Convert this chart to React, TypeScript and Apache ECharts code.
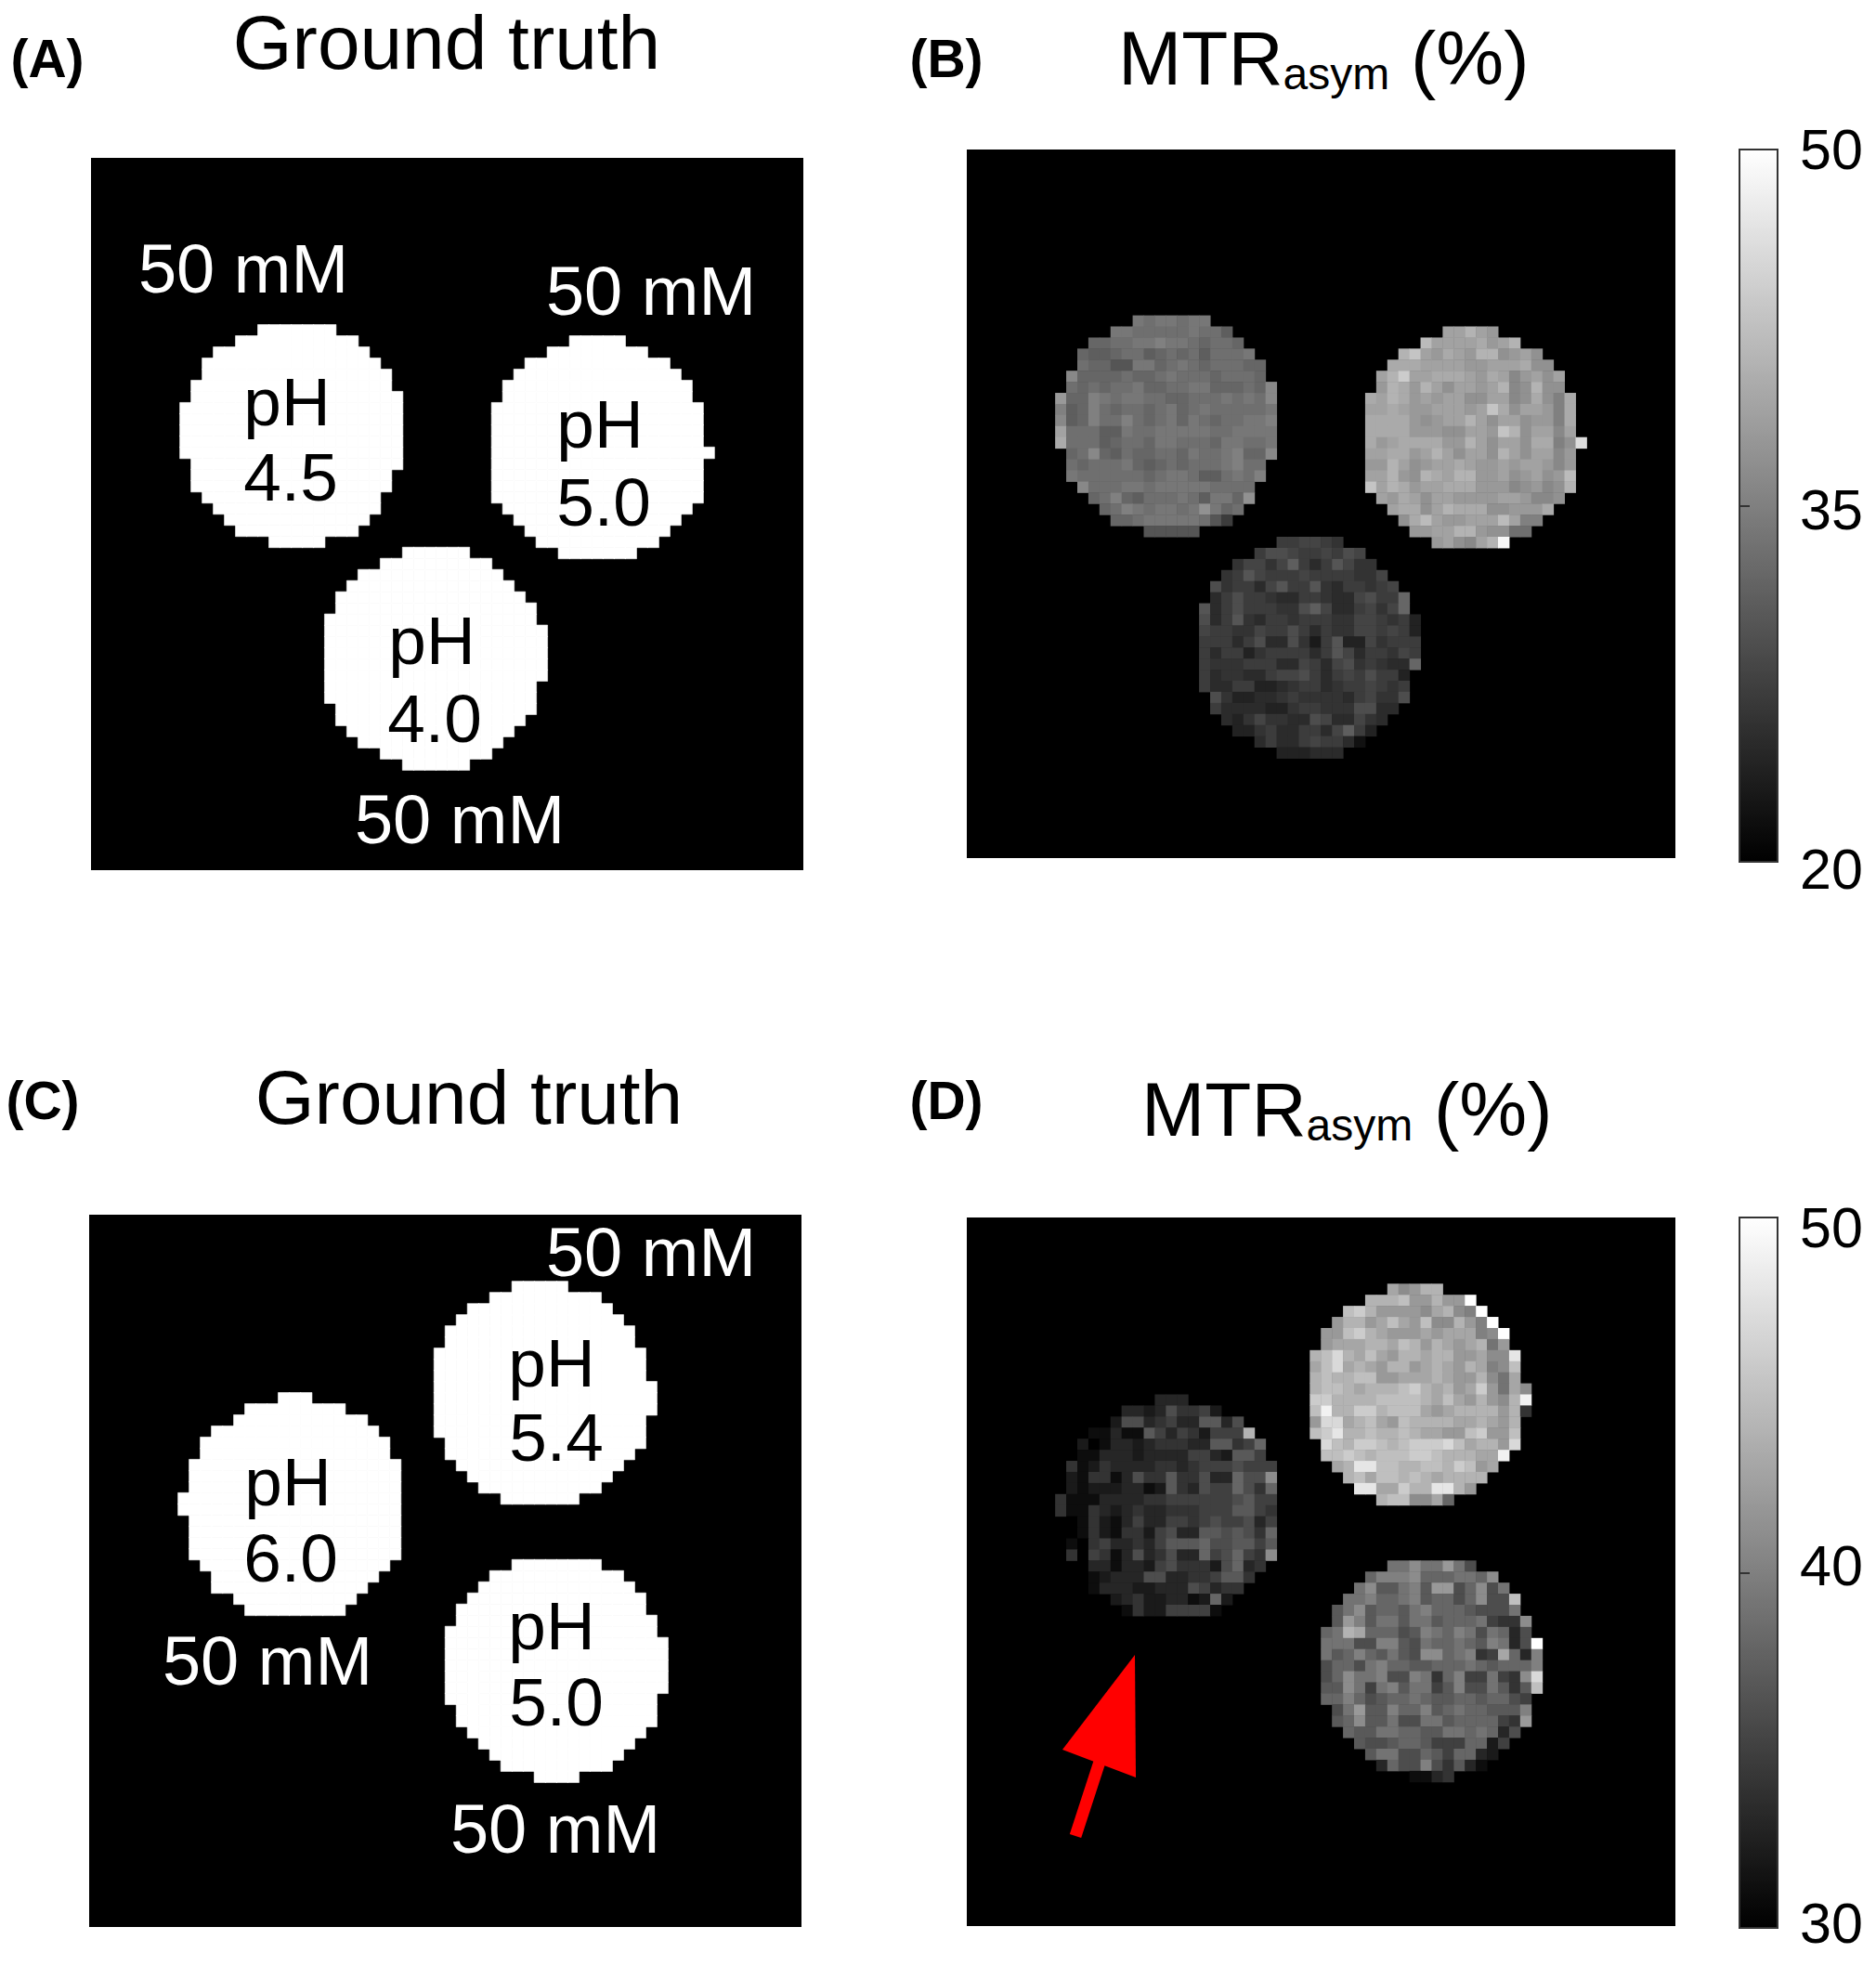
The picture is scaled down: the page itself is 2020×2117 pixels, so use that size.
import React, { useEffect, useRef } from "react";
import * as echarts from "echarts";

const cellIndex: string[] = [];
for (let i = 0; i < 64; i++) cellIndex.push(String(i));

// Panel B discs: MTRasym (%) read per cell, row by row
const b1Origin = [8, 15];
const b1Offsets = [7, 5, 3, 2, 2, 1, 1, 0, 0, 0, 0, 0, 1, 1, 1, 2, 3, 4, 5, 8];
const b1Rows = [
  [34,33,34,34,33,34,34],
  [34,34,33,33,33,33,33,34,33,33,31],
  [32,32,33,33,34,34,35,34,34,33,32,33,33,32],
  [32,31,31,32,33,33,31,32,33,32,33,31,33,33,33,34],
  [33,32,32,30,30,34,34,32,33,34,33,32,33,33,33,32,32],
  [36,32,32,32,32,33,32,32,33,34,33,33,33,32,33,33,33,32],
  [33,32,33,32,33,33,34,32,32,33,33,34,34,32,32,32,33,32,36],
  [38,32,32,35,34,33,34,34,33,33,32,32,33,33,33,34,33,34,33,36],
  [35,31,32,35,33,32,33,33,32,33,34,32,33,34,33,33,33,33,33,34],
  [36,31,32,35,33,33,35,33,32,33,34,32,34,33,32,33,33,34,34,35],
  [39,33,33,33,31,31,34,33,33,34,34,34,34,34,33,33,34,34,34,34],
  [40,33,33,33,31,32,33,33,32,34,34,33,33,33,32,34,34,33,33,34],
  [32,33,36,32,31,33,32,32,33,33,32,34,33,33,34,35,32,32,36],
  [33,32,33,33,33,34,32,31,32,33,32,33,33,33,34,35,33,33],
  [34,33,33,33,33,33,33,32,33,34,34,33,31,31,33,34,33,35],
  [36,33,33,33,34,34,33,34,34,34,34,34,33,33,33,33],
  [32,33,35,32,31,33,33,33,34,33,31,34,34,32,37],
  [32,33,35,34,33,34,34,33,34,37,34,32,33],
  [32,32,33,34,34,34,34,34,33,30,27],
  [30,30,30,30,30],
];

const b2Origin = [36, 16];
const b2Offsets = [7, 5, 3, 2, 1, 1, 0, 0, 0, 0, 0, 0, 0, 0, 0, 1, 2, 3, 4, 6];
const b2Rows = [
  [39,39,41,39,38],
  [42,39,39,39,39,40,38,39,41],
  [41,43,39,38,40,39,38,41,41,37,38,39,37],
  [40,40,40,39,39,39,39,38,38,39,39,39,40,37,37],
  [39,41,44,39,39,40,40,40,39,38,40,39,36,38,39,37,39],
  [38,41,40,38,41,39,37,39,39,38,39,41,36,37,41,37,37],
  [40,39,41,40,38,39,38,39,39,37,37,39,39,36,37,40,37,35,40],
  [39,39,40,39,38,38,39,39,39,38,39,43,40,37,39,39,38,35,40],
  [40,40,40,40,38,37,38,39,39,41,39,37,39,39,37,38,38,35,40],
  [40,40,40,40,38,38,38,37,37,39,39,38,43,41,37,39,39,36,39],
  [40,38,39,40,40,40,40,38,38,41,39,37,39,39,37,40,40,35,37,46],
  [39,39,40,40,38,39,41,39,37,39,39,37,41,39,37,39,39,36,38],
  [38,38,41,39,37,38,39,39,40,39,38,38,39,38,39,39,38,36,38],
  [39,39,41,38,37,41,40,39,41,41,38,38,39,37,38,39,37,38,42],
  [43,39,41,40,38,39,39,40,40,40,38,38,38,36,37,38,36,37,41],
  [39,38,40,39,37,39,39,38,38,38,38,39,39,38,36,36,37],
  [39,40,40,37,39,41,40,40,40,37,37,38,38,38,40],
  [37,40,42,39,38,38,39,39,39,42,39,35,35],
  [38,38,39,39,41,41,38,37,37,33,33],
  [38,39,37,36,39,41,49],
];

const b3Origin = [21, 35];
const b3Offsets = [7, 5, 3, 2, 1, 1, 0, 0, 0, 0, 0, 0, 0, 0, 1, 1, 2, 3, 5, 7];
const b3Rows = [
  [27,27,28,28,27,26],
  [27,29,29,28,27,27,28,27,29,28],
  [26,28,28,26,28,31,27,25,27,30,28,26,26],
  [26,27,30,28,27,27,27,28,27,27,27,27,26,26,28],
  [29,26,27,27,25,28,30,27,27,30,26,25,27,27,26,27,28],
  [25,27,29,27,27,26,25,25,27,27,26,25,25,28,29,27,27,32],
  [30,25,27,29,27,27,27,26,26,29,31,28,25,25,27,28,26,28,32],
  [29,25,27,30,26,25,27,27,26,27,27,27,26,26,28,28,27,26,27,24],
  [28,27,27,26,26,28,27,27,29,27,25,27,26,26,28,28,27,28,27,24],
  [27,27,27,25,27,29,25,25,29,26,23,27,30,24,24,28,26,27,27,27],
  [27,25,27,27,24,26,27,27,27,27,25,27,30,28,25,27,27,26,28,27],
  [27,26,26,26,27,27,27,25,25,28,27,25,28,29,26,27,26,25,25,32],
  [27,25,26,26,25,25,27,28,28,29,27,25,27,28,27,29,27,27,24],
  [27,25,25,27,27,24,24,25,26,27,27,25,26,27,27,28,27,26,27],
  [29,26,24,24,25,25,26,27,26,26,26,26,25,27,28,26,26,29],
  [27,25,25,25,25,24,24,26,27,27,26,26,26,29,29,25,25],
  [25,24,26,28,26,26,25,25,29,28,25,25,28,26,25],
  [24,24,26,27,25,25,27,27,25,28,31,27,24],
  [25,27,25,25,27,28,27,27,25,22],
  [24,24,24,25,25,25],
];

// Panel D discs
const d1Origin = [8, 16];
const d1Offsets = [9, 6, 5, 3, 2, 2, 1, 1, 1, 0, 0, 1, 1, 1, 1, 2, 3, 3, 5, 6];
const d1Rows = [
  [33,33,33],
  [33,33,32,33,36,34,34,35,32],
  [32,36,36,33,34,35,33,33,37,37,33,36],
  [31,31,33,31,31,37,35,33,35,34,32,35,35,35,44],
  [32,30,31,33,33,32,33,34,34,34,33,33,37,37,34,35,38],
  [31,31,33,33,33,32,33,33,33,33,35,35,33,32,37,37,35],
  [34,31,32,34,33,33,33,33,34,34,33,34,35,35,35,36,35,35,35],
  [32,31,34,34,31,33,36,34,34,37,34,34,36,33,33,38,36,36,41],
  [32,31,32,32,32,33,33,31,32,37,34,33,36,35,35,38,36,34,38],
  [34,31,31,31,33,33,33,33,34,34,35,35,35,35,35,35,36,37,35,35],
  [34,31,31,34,33,32,33,34,33,33,34,34,34,35,35,35,37,37,35,34],
  [30,31,34,32,31,33,35,33,33,35,35,34,35,36,35,35,36,33,35],
  [30,31,34,32,31,34,34,32,35,36,33,33,37,37,36,37,36,34,38],
  [31,30,34,35,33,33,34,33,35,37,37,37,38,36,36,37,37,35,37],
  [34,30,35,34,31,33,36,33,34,36,33,33,38,35,36,38,35,34,41],
  [30,33,33,31,33,33,32,35,36,34,34,34,32,36,38,33,34],
  [31,32,33,33,33,36,36,33,33,34,34,35,37,37,34],
  [31,33,33,33,32,32,33,33,33,36,35,33,34,34],
  [32,33,34,32,32,33,33,31,32,38,32],
  [31,34,32,32,35,35,35,35,31],
];

const d2Origin = [31, 6];
const d2Offsets = [7, 5, 3, 2, 1, 1, 0, 0, 0, 0, 0, 0, 0, 0, 1, 1, 2, 3, 4, 6];
const d2Rows = [
  [43,41,42,44,44],
  [44,44,44,45,42,42,44,42,42,50],
  [45,46,44,42,42,42,42,41,43,44,41,40,50],
  [42,44,44,42,43,45,43,42,45,41,41,44,42,40,50],
  [42,42,45,46,44,43,42,42,42,43,42,43,43,43,40,41,50],
  [42,43,43,43,44,44,43,45,44,42,44,43,42,43,44,39,42],
  [44,45,47,44,43,45,43,42,44,44,43,44,44,42,42,43,41,41,48],
  [43,45,47,43,44,43,42,44,44,42,43,44,43,42,44,43,40,41,45],
  [44,45,44,44,45,45,42,42,43,43,43,44,43,42,42,44,41,39,43],
  [44,45,45,44,43,44,44,44,45,46,44,43,44,42,43,46,42,39,43,41],
  [46,46,44,44,44,44,45,45,45,45,44,43,45,43,42,44,42,41,44,49],
  [45,49,44,44,46,46,44,45,45,45,43,42,43,44,44,44,44,42,44,34],
  [42,47,47,43,44,45,43,42,45,44,44,44,44,43,43,44,43,42,44],
  [45,46,48,44,44,45,44,44,45,44,43,43,42,42,45,46,42,42,45],
  [47,45,44,46,46,45,44,45,46,46,46,47,45,43,44,44,42,47],
  [45,45,46,45,44,45,45,45,46,46,45,44,44,44,43,43,49],
  [43,44,48,48,45,45,44,44,45,45,44,46,45,42,43],
  [44,45,43,45,45,44,45,44,43,44,44,44,44],
  [48,48,43,43,46,44,44,48,48,44,42],
  [44,45,45,41,41,43,38],
];

const d3Origin = [32, 31];
const d3Offsets = [6, 4, 3, 2, 1, 1, 0, 0, 0, 0, 0, 0, 0, 1, 1, 2, 3, 4, 5, 8];
const d3Rows = [
  [39,39,41,39,39,42,39,36],
  [38,40,40,40,41,38,38,38,39,39,38,41],
  [39,41,37,37,39,40,37,42,42,36,38,41,36,39],
  [39,39,40,38,38,39,40,37,38,38,36,38,41,36,36,45],
  [37,39,41,37,38,38,37,39,40,38,38,38,37,36,36,36,39],
  [37,42,40,37,39,39,37,39,39,37,38,38,38,39,35,34,34,41],
  [38,39,44,43,38,38,38,36,37,40,39,38,40,39,36,39,38,33,36],
  [39,39,39,36,36,40,40,37,36,39,38,38,39,38,37,40,39,33,36,50],
  [39,37,38,40,38,37,39,37,36,41,41,38,39,40,34,35,43,38,33,40],
  [36,38,38,36,39,40,38,38,37,37,38,38,38,39,38,37,38,38,38,40],
  [36,38,41,39,39,40,36,36,40,39,34,38,40,35,35,39,35,34,41,47],
  [37,37,41,39,35,39,40,37,39,39,35,37,40,36,36,39,37,34,37,45],
  [38,38,40,38,36,37,38,38,39,38,37,37,38,38,37,38,38,36,35],
  [36,39,42,37,37,40,38,38,40,37,38,39,38,38,37,37,37,40],
  [37,38,41,37,37,39,36,36,39,39,37,38,38,38,38,35,34,42],
  [38,37,37,39,39,38,38,37,37,39,39,38,39,38,33,36],
  [37,36,36,37,38,38,37,35,35,35,38,38,32,35],
  [37,39,39,36,36,38,37,35,38,38,33,32],
  [33,38,36,36,40,36,34,37,33,31],
  [31,31,33,34],
];

const scaleBTicks = [20, 35, 50];
const scaleDTicks = [30, 40, 50];
const FONT = "'Liberation Sans', Arial, sans-serif";

type Disc = [number[], number[], number[][]];
const discsB: Disc[] = [[b1Origin, b1Offsets, b1Rows], [b2Origin, b2Offsets, b2Rows], [b3Origin, b3Offsets, b3Rows]];
const discsD: Disc[] = [[d1Origin, d1Offsets, d1Rows], [d2Origin, d2Offsets, d2Rows], [d3Origin, d3Offsets, d3Rows]];

const cells = (discs: Disc[], mask: boolean) => {
  const out: number[][] = [];
  discs.forEach(([origin, offsets, rows]) =>
    rows.forEach((row, r) =>
      row.forEach((v, c) => out.push([origin[0] + offsets[r] + c, origin[1] + r, mask ? 1 : v]))
    )
  );
  return out;
};

const PANELS = [
  { left: 98, top: 170, size: 767 },
  { left: 1041, top: 161, size: 763 },
  { left: 96, top: 1308, size: 767 },
  { left: 1041, top: 1311, size: 763 },
];
const BARS = [
  { left: 1873, top: 161, width: 41, height: 767, min: 20, max: 50, ticks: scaleBTicks, seriesIndex: 1, nudge: { 20: 8, 35: 4, 50: 0 } as Record<number, number> },
  { left: 1873, top: 1311, width: 41, height: 765, min: 30, max: 50, ticks: scaleDTicks, seriesIndex: 3, nudge: { 30: -5, 40: -8, 50: 11 } as Record<number, number> },
];

const txt = (text: string, x: number, y: number, fontSize: number, fill: string, bold = false, align = "center") => ({
  type: "text",
  x,
  y,
  z: 20,
  style: {
    text,
    fill,
    fontSize,
    fontFamily: FONT,
    fontWeight: bold ? "bold" : "normal",
    textAlign: align,
    textVerticalAlign: "middle",
  },
});

const mtrTitle = (x: number, y: number) => ({
  type: "text",
  x,
  y,
  z: 20,
  style: {
    text: "{m|MTR}{s|asym}{m| (%)}",
    textAlign: "left",
    textVerticalAlign: "middle",
    rich: {
      m: { fontSize: 82, fontFamily: FONT, fill: "#000", lineHeight: 82 },
      s: { fontSize: 48, fontFamily: FONT, fill: "#000", lineHeight: 38, verticalAlign: "bottom" },
    },
  },
});

export default function App() {
  const ref = useRef<HTMLDivElement>(null);
  useEffect(() => {
    document.body.style.margin = "0";
    const chart = echarts.init(ref.current!, undefined, { renderer: "svg" });
    const sources = [cells(discsB, true), cells(discsB, false), cells(discsD, true), cells(discsD, false)];
    const gridIds = [0, 1, 2, 3];
    const option: any = {
      animation: false,
      backgroundColor: "#fff",
      grid: [
        ...PANELS.map((p) => ({
          left: p.left, top: p.top, width: p.size, height: p.size,
          show: true, backgroundColor: "#000", borderWidth: 0,
        })),
        ...BARS.map((b) => ({
          left: b.left, top: b.top, width: b.width, height: b.height,
          show: true, backgroundColor: "transparent", borderColor: "#333", borderWidth: 2, z: 10,
        })),
      ],
      xAxis: [
        ...gridIds.map((g) => ({ type: "category", gridIndex: g, data: cellIndex, show: false })),
        ...BARS.map((_, i) => ({ type: "value", gridIndex: 4 + i, show: false, min: 0, max: 1 })),
      ],
      yAxis: [
        ...gridIds.map((g) => ({ type: "category", gridIndex: g, data: cellIndex, show: false, inverse: true })),
        ...BARS.map((b, i) => ({
          type: "value",
          gridIndex: 4 + i,
          position: "right",
          min: b.min,
          max: b.max,
          z: 11,
          axisLine: { show: false },
          splitLine: { show: false },
          axisTick: { show: true, length: 11, customValues: b.ticks, lineStyle: { color: "#333", width: 2 } },
          axisLabel: {
            show: true,
            customValues: b.ticks,
            margin: 24,
            fontSize: 61,
            fontFamily: FONT,
            color: "#000",
            formatter: (v: number) => `{t${v}|${v}}`,
            rich: Object.fromEntries(
              b.ticks.map((t) => {
                const s = b.nudge[t];
                return [
                  `t${t}`,
                  { fontSize: 61, fontFamily: FONT, color: "#000", padding: s >= 0 ? [2 * s, 0, 0, 0] : [0, 0, -2 * s, 0] },
                ];
              })
            ),
          },
        })),
      ],
      visualMap: [
        { show: false, seriesIndex: [0, 2], min: 0, max: 1, inRange: { color: ["#fff", "#fff"] } },
        ...BARS.map((b) => ({
          type: "continuous",
          seriesIndex: b.seriesIndex,
          min: b.min,
          max: b.max,
          show: true,
          calculable: false,
          hoverLink: false,
          left: b.left,
          top: b.top,
          itemWidth: b.width,
          itemHeight: b.height,
          padding: 0,
          text: ["", ""],
          showLabel: false,
          inRange: { color: ["#000", "#fff"] },
        })),
      ],
      series: sources.map((data, i) => ({
        type: "heatmap",
        xAxisIndex: i,
        yAxisIndex: i,
        data,
        itemStyle: i % 2 === 0 ? { borderWidth: 0.6, borderColor: "#fff" } : { borderWidth: 0 },
        emphasis: { disabled: true },
        silent: true,
        progressive: 0,
      })),
      graphic: [
        txt("(A)", 51, 63, 57, "#000", true),
        txt("(B)", 1019, 63, 57, "#000", true),
        txt("(C)", 46, 1185, 57, "#000", true),
        txt("(D)", 1019, 1185, 57, "#000", true),
        txt("Ground truth", 481, 45, 82, "#000"),
        txt("Ground truth", 505, 1181, 82, "#000"),
        mtrTitle(1204, 62),
        mtrTitle(1229, 1194),
        txt("50 mM", 262, 289, 74, "#fff"),
        txt("50 mM", 701, 313, 74, "#fff"),
        txt("50 mM", 495, 882, 74, "#fff"),
        txt("pH", 309, 432, 73, "#000"),
        txt("4.5", 313, 513, 73, "#000"),
        txt("pH", 646, 456, 73, "#000"),
        txt("5.0", 650, 540, 73, "#000"),
        txt("pH", 465, 689, 73, "#000"),
        txt("4.0", 468, 773, 73, "#000"),
        txt("50 mM", 701, 1348, 74, "#fff"),
        txt("50 mM", 288, 1788, 74, "#fff"),
        txt("50 mM", 598, 1969, 74, "#fff"),
        txt("pH", 594, 1467, 73, "#000"),
        txt("5.4", 599, 1547, 73, "#000"),
        txt("pH", 310, 1595, 73, "#000"),
        txt("6.0", 313, 1677, 73, "#000"),
        txt("pH", 594, 1750, 73, "#000"),
        txt("5.0", 599, 1832, 73, "#000"),
        {
          type: "polygon",
          z: 20,
          shape: { points: [[1222, 1782], [1144, 1884], [1223, 1914]] },
          style: { fill: "#ff0000" },
        },
        {
          type: "line",
          z: 20,
          shape: { x1: 1185, y1: 1894, x2: 1158, y2: 1977 },
          style: { stroke: "#ff0000", lineWidth: 13 },
        },
      ],
    };
    chart.setOption(option);
    return () => chart.dispose();
  }, []);
  return <div ref={ref} style={{ width: 2020, height: 2117 }} />;
}
